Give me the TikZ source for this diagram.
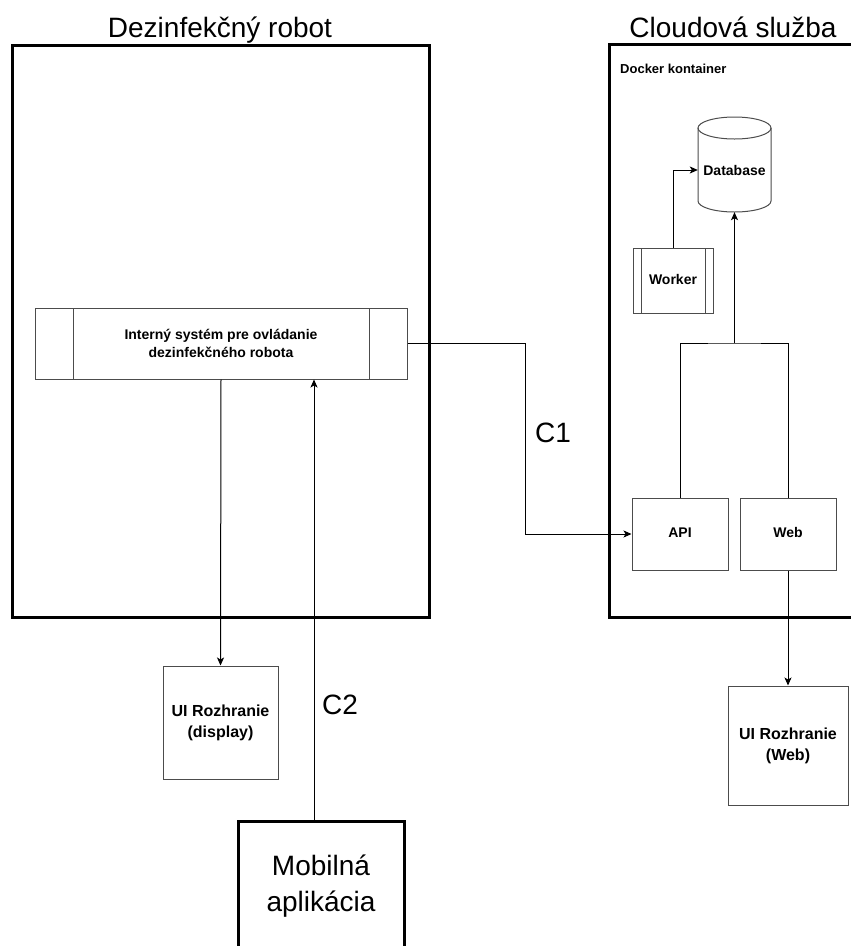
\documentclass[tikz,border=0pt]{standalone}
\usepackage{fontspec}
\setmainfont{Liberation Sans}
\usetikzlibrary{arrows.meta,calc}
\begin{document}
\begin{tikzpicture}[x=1pt,y=-1pt,
  frame/.style={draw=black, line width=3pt, inner sep=0pt},
  title/.style={font=\fontsize{28}{32}\selectfont, inner sep=0pt},
  lbl/.style={font=\fontsize{28}{32}\selectfont, inner sep=0pt},
  box/.style={draw=black!70, line width=1pt, fill=white, align=center,
    font=\bfseries\fontsize{14}{18}\selectfont, inner sep=0pt},
  oneline/.style={box, text height=10pt, text depth=3pt},
  bigbox/.style={box, font=\bfseries\fontsize{16}{21}\selectfont},
  procbox/.style={box, path picture={
    \draw[draw=black!70, line width=1pt]
      ([xshift=#1]path picture bounding box.north west) -- ([xshift=#1]path picture bounding box.south west)
      ([xshift=-#1]path picture bounding box.north east) -- ([xshift=-#1]path picture bounding box.south east);}},
  conn/.style={draw=black, line width=1pt},
  arr/.style={conn, -{Stealth[length=8pt,width=7pt,inset=2pt]}}
]
\useasboundingbox (0,0) rectangle (851,946);
\clip (0,0) rectangle (851,946);

% robot side
\node[frame, minimum width=417pt, minimum height=572pt] (robot) at (220.5,331) {};
\node[title, anchor=base] (robottitle) at (220,37) {Dezinfekčný robot};
\node[procbox=38pt, minimum width=372pt, minimum height=71pt] (sys) at (221,343.5)
  {Interný systém pre ovládanie\\dezinfekčného robota};
\node[bigbox, minimum width=115pt, minimum height=113pt] (disp) at (220.5,722.5)
  {UI Rozhranie\\(display)};
\node[frame, align=center, font=\fontsize{28}{36}\selectfont,
  minimum width=166pt, minimum height=131pt] (mob) at (321,886.5) {Mobilná\\aplikácia};

% cloud side
\node[frame, minimum width=248pt, minimum height=573pt] (cloud) at (733,330.5) {};
\node[title, anchor=base] (cloudtitle) at (733,37) {Cloudová služba};
\node[anchor=base west, inner sep=0pt, font=\bfseries\fontsize{13}{15}\selectfont] (docker) at (620,73) {Docker kontainer};

% database cylinder
\node[minimum width=73pt, minimum height=95pt, inner sep=0pt] (db) at (734.5,164.5) {};
\draw[draw=black!70, line width=1pt, fill=white]
  (698,128) -- (698,201) arc[start angle=180, end angle=360, x radius=36.5pt, y radius=11pt] -- (771,128);
\draw[draw=black!70, line width=1pt] (734.5,128) ellipse [x radius=36.5pt, y radius=11pt];
\node[inner sep=0pt, font=\bfseries\fontsize{14}{18}\selectfont] (dblabel) at (734.5,170) {Database};

\node[procbox=8pt, oneline, minimum width=80pt, minimum height=65pt] (worker) at (673,280.5) {Worker};
\node[oneline, minimum width=96pt, minimum height=72pt] (api) at (680,534) {API};
\node[oneline, minimum width=96pt, minimum height=72pt] (web) at (788,534) {Web};
\node[bigbox, minimum width=120pt, minimum height=119pt] (uiweb) at (788,745.5) {UI Rozhranie\\(Web)};

% connectors
\coordinate (c1x) at (525,343.5);
\draw[arr] (sys.east) -- (c1x) |- (api.west);
\node[lbl] (c1) at (553,433) {C1};

\draw[arr] (sys.south) -- (disp.north);
\draw[arr] ([xshift=-7pt]mob.north) -- ([xshift=-7pt]mob.north |- sys.south);
\node[lbl] (c2) at (340,705) {C2};

\coordinate (join) at (734.5,343);
\draw[conn] (api.north) |- (join) -| (web.north);
\draw[arr] (join) -- (db.south);
\draw[arr] (worker.north) |- (db.west |- dblabel);
\draw[arr] (web.south) -- (uiweb.north);
\end{tikzpicture}
\end{document}
